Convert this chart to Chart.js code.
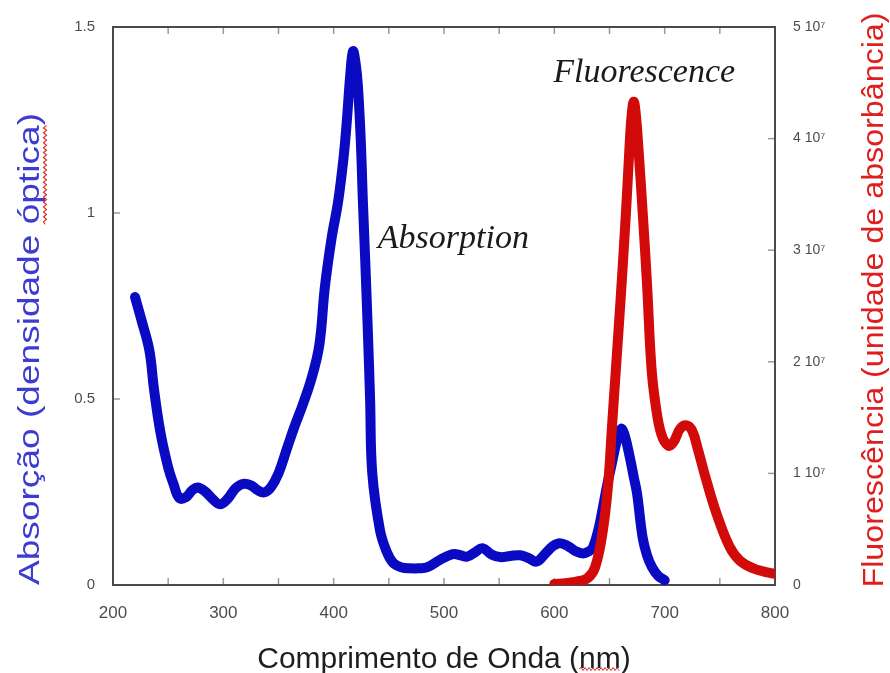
<!DOCTYPE html>
<html>
<head>
<meta charset="utf-8">
<script src="https://cdn.jsdelivr.net/npm/chart.js@4.4.0/dist/chart.umd.min.js"></script>
<style>
  html, body { margin: 0; padding: 0; background: #fff; }
</style>
</head>
<body>
<canvas id="spectra" width="890" height="673"></canvas>
<script>
// absorption spectrum (wavelength nm -> optical density)
const absWl = [220, 226, 233, 237, 243, 250, 255, 260, 266, 272, 277, 284, 290, 297, 304, 311, 318, 325, 331, 337,
  343, 350, 358, 365, 372, 380, 387, 392, 398, 404, 409, 412, 415, 417.5, 420, 422, 424.5, 426.5, 428.5, 431,
  433, 435, 442, 448, 454, 462, 469, 477, 485, 496, 508, 515, 521, 528, 535, 543, 551, 560, 569, 577,
  584, 592, 599, 605, 612, 620, 626, 631, 635, 640, 644, 648, 652, 656, 659.5, 661, 664, 668.5, 672, 675,
  680, 684, 688.5, 694, 700];
const absVal = [0.774, 0.71, 0.63, 0.53, 0.41, 0.316, 0.27, 0.234, 0.236, 0.255, 0.262, 0.25, 0.232, 0.217, 0.232, 0.26, 0.272, 0.268, 0.255, 0.249,
  0.262, 0.30, 0.37, 0.43, 0.485, 0.556, 0.645, 0.80, 0.93, 1.03, 1.15, 1.25, 1.37, 1.435, 1.40, 1.34, 1.2, 1.03, 0.88, 0.68,
  0.5, 0.3, 0.147, 0.09, 0.059, 0.047, 0.045, 0.045, 0.048, 0.067, 0.083, 0.08, 0.076, 0.088, 0.099, 0.082, 0.075, 0.078, 0.08, 0.072,
  0.063, 0.085, 0.105, 0.112, 0.105, 0.09, 0.085, 0.09, 0.101, 0.15, 0.208, 0.27, 0.325, 0.38, 0.414, 0.42, 0.4, 0.342, 0.29, 0.245,
  0.128, 0.08, 0.048, 0.025, 0.013];

// fluorescence spectrum (wavelength nm -> intensity in units of 10^7)
const fluWl = [600, 610, 620, 630, 637, 644, 649, 652, 655, 660, 665, 668, 670, 672, 674, 677, 680, 684, 688, 692,
  697, 703, 708, 714, 720, 725, 730, 738, 747, 759, 768, 780, 790, 800];
const fluVal = [0.01, 0.015, 0.03, 0.06, 0.16, 0.49, 0.93, 1.38, 1.82, 2.55, 3.35, 3.9, 4.2, 4.33, 4.2, 3.8, 3.35, 2.7, 1.95, 1.6,
  1.35, 1.25, 1.28, 1.4, 1.43, 1.38, 1.22, 0.93, 0.64, 0.34, 0.22, 0.15, 0.12, 0.1];

// tick labels
const xTicks = [200, 300, 400, 500, 600, 700, 800];
const absTicks = ['0', '0.5', '1', '1.5'];
const fluTicks = ['0', '1 10⁷', '2 10⁷', '3 10⁷', '4 10⁷', '5 10⁷'];

const xTitle = 'Comprimento de Onda (nm)';
const absTitle = 'Absorção (densidade óptica)';
const fluTitle = 'Fluorescência (unidade de absorbância)';

const sans = "'Liberation Sans', Arial, sans-serif";
const serif = "'Liberation Serif', 'Times New Roman', serif";

// little red spell-check squiggle, as in the original screenshot
function squiggle(ctx, x1, x2, y) {
  ctx.save();
  ctx.strokeStyle = '#d42a2a';
  ctx.lineWidth = 1;
  ctx.beginPath();
  ctx.moveTo(x1, y);
  let up = true;
  for (let x = x1 + 2; x <= x2; x += 2) {
    ctx.lineTo(x, y + (up ? -1.5 : 1.5));
    up = !up;
  }
  ctx.stroke();
  ctx.restore();
}

//frame, inward ticks, side titles and curve names
const decor = {
  id: 'decor',
  beforeDatasetsDraw(chart) {
    const { ctx, chartArea: a, scales } = chart;
    ctx.save();
    ctx.strokeStyle = '#9a9a9a';
    ctx.lineWidth = 1.5;
    const tick = (x1, y1, x2, y2) => {
      ctx.beginPath(); ctx.moveTo(x1, y1); ctx.lineTo(x2, y2); ctx.stroke();
    };
    for (let v = 250; v < 800; v += 50) {
      const px = scales.x.getPixelForValue(v);
      tick(px, a.bottom, px, a.bottom - 7);
      tick(px, a.top, px, a.top + 7);
    }
    [0.5, 1].forEach(v => {
      const py = scales.y.getPixelForValue(v);
      tick(a.left, py, a.left + 7, py);
    });
    [1, 2, 3, 4].forEach(v => {
      const py = scales.y2.getPixelForValue(v);
      tick(a.right, py, a.right - 7, py);
    });
    ctx.strokeStyle = '#4a4a4a';
    ctx.lineWidth = 2;
    ctx.strokeRect(a.left, a.top, a.right - a.left, a.bottom - a.top);
    ctx.restore();
  },
  afterDraw(chart) {
    const { ctx, chartArea: a, scales } = chart;
    ctx.save();

    // curve names, placed in data coordinates
    ctx.font = 'italic 34px ' + serif;
    ctx.fillStyle = '#1a1a1a';
    ctx.textBaseline = 'alphabetic';
    ctx.fillText('Absorption', scales.x.getPixelForValue(440), scales.y.getPixelForValue(0.907));
    ctx.fillText('Fluorescence', scales.x.getPixelForValue(599), scales.y.getPixelForValue(1.353));

    // squiggle under "nm" of the x title
    ctx.font = '30px ' + sans;
    const cx = (a.left + a.right) / 2;
    const full = ctx.measureText(xTitle).width;
    const pre = ctx.measureText('Comprimento de Onda (').width;
    const nm = ctx.measureText('nm').width;
    squiggle(ctx, cx - full / 2 + pre, cx - full / 2 + pre + nm, chart.height - 4);

    // rotated axis titles, stretched to the length used in the original
    const sideTitle = (text, color, cx, cy, len, mark) => {
      ctx.save();
      ctx.font = '30px ' + sans;
      ctx.fillStyle = color;
      ctx.textAlign = 'center';
      ctx.textBaseline = 'middle';
      ctx.translate(cx, cy);
      ctx.rotate(-Math.PI / 2);
      const w = ctx.measureText(text).width;
      ctx.scale(len / w, 1);
      ctx.fillText(text, 0, 0);
      if (mark) {
        const s = -w / 2 + ctx.measureText(text.slice(0, text.indexOf(mark))).width;
        squiggle(ctx, s, s + ctx.measureText(mark).width, 14);
      }
      ctx.restore();
    };
    sideTitle(absTitle, '#3c3cd2', a.left - 82, a.bottom - 236, 472, 'óptica');
    sideTitle(fluTitle, '#e01e1e', a.right + 100, (a.top + a.bottom) / 2 - 6, 575);
    ctx.restore();
  }
};

const ctx = document.getElementById('spectra').getContext('2d');
const chart = new Chart(ctx, {
  type: 'line',
  data: {
    datasets: [
      {
        label: 'Fluorescence',
        data: fluWl.map((w, i) => ({ x: w, y: fluVal[i] })),
        yAxisID: 'y2',
        borderColor: '#d20a0a',
        borderWidth: 10,
        order: 0,
      },
      {
        label: 'Absorption',
        data: absWl.map((w, i) => ({ x: w, y: absVal[i] })),
        yAxisID: 'y',
        borderColor: '#0a0ac3',
        borderWidth: 10,
        order: 1,
      }
    ]
  },
  options: {
    responsive: false,
    animation: false,
    layout: { padding: { top: 23, left: 0, right: 0, bottom: 0 } },
    elements: {
      point: { radius: 0 },
      line: { tension: 0.4, borderCapStyle: 'round', borderJoinStyle: 'round', fill: false }
    },
    plugins: { legend: { display: false }, tooltip: { enabled: false } },
    scales: {
      x: {
        type: 'linear',
        min: 200,
        max: 800,
        afterBuildTicks: s => { s.ticks = xTicks.map(v => ({ value: v })); },
        ticks: { color: '#4d4d4d', font: { family: sans, size: 17 }, padding: 18, maxRotation: 0 },
        grid: { display: false, drawTicks: false },
        border: { display: false },
        title: { display: true, text: xTitle, color: '#1e1e1e', font: { family: sans, size: 30 }, padding: { top: 0, bottom: -5 } },
        afterFit: s => { s.height = 88; }
      },
      y: {
        position: 'left',
        min: 0,
        max: 1.5,
        ticks: { stepSize: 0.5, color: '#4d4d4d', font: { family: sans, size: 15 }, padding: 18,
          callback: (v, i) => absTicks[i] },
        grid: { display: false, drawTicks: false },
        border: { display: false },
        afterFit: s => { s.width = 113; }
      },
      y2: {
        position: 'right',
        min: 0,
        max: 5,
        ticks: { stepSize: 1, color: '#4d4d4d', font: { family: sans, size: 14 }, padding: 18,
          callback: (v, i) => fluTicks[i] },
        grid: { display: false, drawTicks: false },
        border: { display: false },
        afterFit: s => { s.width = 115; }
      }
    }
  },
  plugins: [decor]
});
</script>
</body>
</html>
